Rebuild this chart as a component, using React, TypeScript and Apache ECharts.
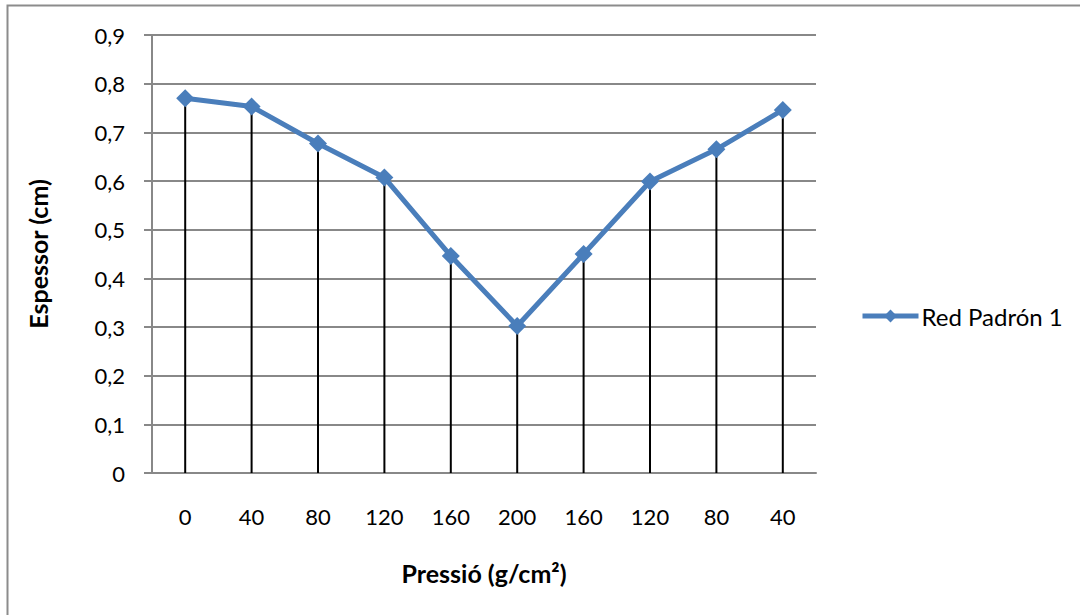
import React, { useEffect, useRef } from "react";
import * as echarts from "echarts";

const categories = ["0", "40", "80", "120", "160", "200", "160", "120", "80", "40"];
const espessor = [0.77, 0.753, 0.677, 0.607, 0.446, 0.302, 0.45, 0.599, 0.665, 0.746];
const seriesName = "Red Padrón 1";

const FONT = "Lato, 'Open Sans', sans-serif";

export default function App() {
  const ref = useRef<HTMLDivElement>(null);
  useEffect(() => {
    if (!ref.current) return;
    const chart = echarts.init(ref.current, undefined, { renderer: "svg" });
    chart.setOption({
      animation: false,
      backgroundColor: "#ffffff",
      textStyle: { fontFamily: FONT },
      graphic: [
        {
          type: "rect",
          shape: { x: 7.5, y: 5.5, width: 1200, height: 800 },
          style: { fill: "none", stroke: "#8c8c8c", lineWidth: 2 },
          silent: true,
        },
      ],
      grid: { left: 152, right: 264, top: 35, bottom: 142 },
      legend: {
        data: [seriesName],
        left: 855,
        top: 299,
        itemWidth: 56,
        itemHeight: 16,
        itemGap: 4,
        lineStyle: { width: 5, color: "#4a7ebb" },
        textStyle: { fontFamily: FONT, fontSize: 24, color: "#000", padding: [0, 0, 0, -2] },
      },
      xAxis: {
        type: "category",
        data: categories,
        boundaryGap: true,
        axisLine: { show: true, lineStyle: { color: "#888888", width: 2 } },
        axisTick: { show: false },
        axisLabel: { color: "#000", fontSize: 22, fontFamily: FONT, margin: 32 },
        splitLine: { show: false },
        name: "Pressió (g/cm²)",
        nameLocation: "middle",
        nameGap: 87,
        nameTextStyle: { color: "#000", fontSize: 25, fontWeight: "bold", fontFamily: FONT },
      },
      yAxis: {
        type: "value",
        min: 0,
        max: 0.9,
        interval: 0.1,
        axisLine: { show: true, lineStyle: { color: "#888888", width: 2 } },
        axisTick: { show: true, length: 8, lineStyle: { color: "#888888", width: 2 } },
        axisLabel: {
          color: "#000",
          fontSize: 22,
          fontFamily: FONT,
          margin: 27,
          formatter: (v: number) => (Math.round(v * 10) / 10).toString().replace(".", ","),
        },
        splitLine: { show: true, lineStyle: { color: "#888888", width: 2 } },
        name: "Espessor (cm)",
        nameLocation: "middle",
        nameGap: 102,
        nameTextStyle: { color: "#000", fontSize: 25, fontWeight: "bold", fontFamily: FONT },
      },
      series: [
        {
          type: "bar",
          name: "drop",
          data: espessor,
          barWidth: 2,
          itemStyle: { color: "#000000" },
          z: 2,
          silent: true,
        },
        {
          type: "line",
          name: seriesName,
          data: espessor,
          symbol: "diamond",
          symbolSize: 18,
          lineStyle: { color: "#4a7ebb", width: 5 },
          itemStyle: { color: "#4a7ebb" },
          z: 3,
        },
      ],
    });
    return () => chart.dispose();
  }, []);
  return (
    <div
      ref={ref}
      style={{ position: "fixed", left: 0, top: 0, width: 1080, height: 615, background: "#fff" }}
    />
  );
}
